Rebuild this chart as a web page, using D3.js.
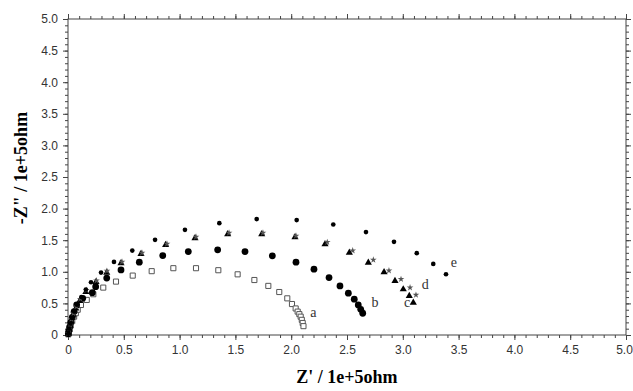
<!DOCTYPE html>
<html><head><meta charset="utf-8">
<script src="https://cdn.jsdelivr.net/npm/d3@7"></script>
<style>body{margin:0;background:#fff}</style>
</head><body>
<svg id="c" width="633" height="391"></svg>
<script>
const xTicks = [0, 0.5, 1.0, 1.5, 2.0, 2.5, 3.0, 3.5, 4.0, 4.5, 5.0];
const yTicks = [0, 0.5, 1.0, 1.5, 2.0, 2.5, 3.0, 3.5, 4.0, 4.5, 5.0];
const seriesNames = ["a", "b", "c", "d", "e"];

const aX = [0.003,0.008,0.015,0.025,0.038,0.055,0.07,0.087,0.116,0.168,0.227,0.316,0.43,0.58,0.75,0.944,1.147,1.347,1.52,1.67,1.795,1.893,1.965,2.007,2.04,2.058,2.073,2.085,2.095,2.103,2.11];
const aY = [0.01,0.04,0.09,0.15,0.22,0.29,0.345,0.40,0.475,0.555,0.645,0.75,0.845,0.94,1.01,1.057,1.057,1.025,0.96,0.87,0.777,0.68,0.58,0.49,0.42,0.37,0.33,0.29,0.24,0.19,0.14];

const bX = [0.003,0.008,0.015,0.025,0.038,0.055,0.078,0.132,0.218,0.248,0.347,0.475,0.639,0.849,1.078,1.341,1.586,1.831,2.043,2.204,2.339,2.437,2.512,2.565,2.601,2.623,2.641];
const bY = [0.02,0.07,0.13,0.2,0.28,0.37,0.475,0.58,0.67,0.765,0.90,1.03,1.152,1.257,1.32,1.347,1.32,1.252,1.152,1.041,0.908,0.777,0.661,0.566,0.475,0.407,0.344];

const cX = [0.003,0.008,0.016,0.028,0.045,0.07,0.105,0.16,0.251,0.347,0.475,0.654,0.875,1.138,1.431,1.736,2.034,2.303,2.521,2.691,2.832,2.930,3.004,3.058,3.094];
const cY = [0.02,0.08,0.15,0.23,0.32,0.42,0.54,0.68,0.84,0.987,1.136,1.284,1.426,1.532,1.596,1.596,1.548,1.437,1.304,1.146,0.994,0.856,0.724,0.618,0.512];

const dX = [0.004,0.01,0.018,0.03,0.048,0.075,0.11,0.165,0.255,0.349,0.484,0.663,0.887,1.147,1.443,1.747,2.043,2.323,2.551,2.736,2.876,2.984,3.065,3.118];
const dY = [0.03,0.09,0.16,0.25,0.34,0.45,0.57,0.71,0.86,1.014,1.157,1.30,1.442,1.553,1.617,1.617,1.569,1.469,1.336,1.189,1.019,0.883,0.75,0.634];

const eX = [0.004,0.01,0.02,0.035,0.055,0.08,0.12,0.16,0.206,0.296,0.412,0.576,0.780,1.048,1.356,1.691,2.049,2.377,2.670,2.921,3.125,3.273,3.387];
const eY = [0.03,0.1,0.18,0.27,0.37,0.48,0.6,0.72,0.835,0.987,1.157,1.336,1.506,1.664,1.770,1.834,1.818,1.748,1.628,1.474,1.295,1.125,0.962];

const svg = d3.select("#c");
const L = 68, R = 626, T = 19, B = 335;
const x = d3.scaleLinear().domain([0, 5]).range([L, R]);
const y = d3.scaleLinear().domain([0, 5]).range([B, T]);
const axisColor = "#444";

svg.append("rect").attr("x", L).attr("y", T).attr("width", R - L).attr("height", B - T)
  .attr("fill", "none").attr("stroke", axisColor).attr("stroke-width", 1);

const minor = d3.range(0, 5.0001, 0.1);
const fmt = d => d === 0 ? "0" : d3.format(".1f")(d);

function axis(orient, tx, ty, labels) {
  const sc = (orient === "bottom" || orient === "top") ? x : y;
  const mk = orient === "bottom" ? d3.axisBottom : orient === "top" ? d3.axisTop : orient === "left" ? d3.axisLeft : d3.axisRight;
  const gm = svg.append("g").attr("transform", `translate(${tx},${ty})`)
    .call(mk(sc).tickValues(minor).tickSize(3).tickFormat(""));
  gm.select(".domain").remove();
  gm.selectAll("line").attr("stroke", axisColor);
  const ticks = (orient === "bottom" || orient === "top") ? xTicks : yTicks;
  const g = svg.append("g").attr("transform", `translate(${tx},${ty})`)
    .call(mk(sc).tickValues(ticks).tickSize(5).tickPadding(labels ? 5 : 0).tickFormat(labels ? fmt : ""));
  g.select(".domain").remove();
  g.selectAll("line").attr("stroke", axisColor);
  g.selectAll("text").attr("fill", "#333").style("font-family", "Arial, 'Liberation Sans', sans-serif").style("font-size", "12px");
  return g;
}
const gx = axis("bottom", 0, B, true);
axis("top", 0, T, false);
axis("left", L, 0, true);
axis("right", R, 0, false);
gx.selectAll("text").filter(d => d === 5).attr("dx", "-2");

svg.append("text").attr("x", (L + R) / 2).attr("y", 383).attr("text-anchor", "middle")
  .style("font-family", "'Liberation Serif', 'Times New Roman', serif").style("font-weight", "bold").style("font-size", "18px")
  .text("Z' / 1e+5ohm");
svg.append("text").attr("transform", "translate(27,168) rotate(-90)").attr("text-anchor", "middle")
  .style("font-family", "'Liberation Serif', 'Times New Roman', serif").style("font-weight", "bold").style("font-size", "18px")
  .text('-Z" / 1e+5ohm');

const zip = (xs, ys) => xs.map((v, i) => [v, ys[i]]);
const series = [
  { name: "a", data: zip(aX, aY), sym: d3.symbolSquare, size: 26, fill: "#fff", stroke: "#555" },
  { name: "b", data: zip(bX, bY), sym: d3.symbolCircle, size: 36, fill: "#000", stroke: "none" },
  { name: "c", data: zip(cX, cY), sym: d3.symbolTriangle, size: 22, fill: "#000", stroke: "none" },
  { name: "d", data: zip(dX, dY), sym: d3.symbolStar, size: 14, fill: "#555", stroke: "none" },
  { name: "e", data: zip(eX, eY), sym: d3.symbolCircle, size: 17, fill: "#000", stroke: "none" }
];
series.forEach(s => {
  svg.append("g").selectAll("path").data(s.data).join("path")
    .attr("transform", d => `translate(${x(d[0])},${y(d[1])})`)
    .attr("d", d3.symbol().type(s.sym).size(s.size))
    .attr("fill", s.fill).attr("stroke", s.stroke).attr("stroke-width", 1);
});

const labelPos = [[2.17, 0.28], [2.72, 0.45], [3.01, 0.45], [3.17, 0.72], [3.43, 1.08]];
svg.append("g").selectAll("text").data(seriesNames).join("text")
  .attr("x", (d, i) => x(labelPos[i][0])).attr("y", (d, i) => y(labelPos[i][1]))
  .style("font-family", "'Liberation Serif', 'Times New Roman', serif").style("font-size", "14px")
  .attr("fill", "#333").text(d => d);
</script>
</body></html>
